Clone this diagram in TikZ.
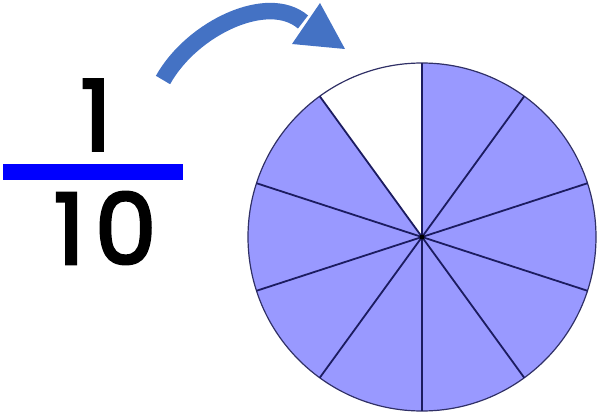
\documentclass[tikz,border=0pt]{standalone}
\usepackage{fontspec}
\setmainfont{Poppins}
\newfontfamily\digitfont{Poppins}[FakeBold=3]
\definecolor{slice}{HTML}{9999FF}
\definecolor{edge}{HTML}{1C1C60}
\definecolor{arrowblue}{HTML}{4472C4}
\definecolor{barblue}{HTML}{0000FF}
\begin{document}
\begin{tikzpicture}[x=1pt,y=1pt,
  digit/.style={inner sep=0pt,font=\digitfont\fontsize{98}{98}\selectfont},
  spoke/.style={draw=edge,line width=1.8pt}]
\useasboundingbox (0,0) rectangle (597,416);
% fraction
\node[digit] (num) at (96,301) {1};
\fill[barblue] (3,236) rectangle (183,252);
\node[digit] (den) at (105,188) {1\kern10pt0};
% arrow
\coordinate (tail) at (163,336);
\coordinate (hb) at (306,392);
\coordinate (tip) at (345,367);
\coordinate (h1) at (320,413);
\coordinate (h2) at (292,372);
\draw[arrowblue,line width=16.5pt] (tail) .. controls (192,388) and (268,424) .. ([shift={(-3,2)}]hb);
\fill[arrowblue] (h1) -- (tip) -- (h2) -- cycle;
% pie
\coordinate (c) at (422,179);
\foreach \k in {1,...,9}{
  \fill[slice] (c) -- +({90+36*\k}:174) arc[start angle=90+36*\k,end angle=126+36*\k,radius=174] -- cycle;
}
\draw[draw=edge!80!gray,line width=1.2pt] (c) circle[radius=174];
\foreach \k in {0,...,9}{
  \draw[spoke] (c) -- +({90+36*\k}:174);
}
\fill[black] (c) circle[radius=2.5];
\end{tikzpicture}
\end{document}
